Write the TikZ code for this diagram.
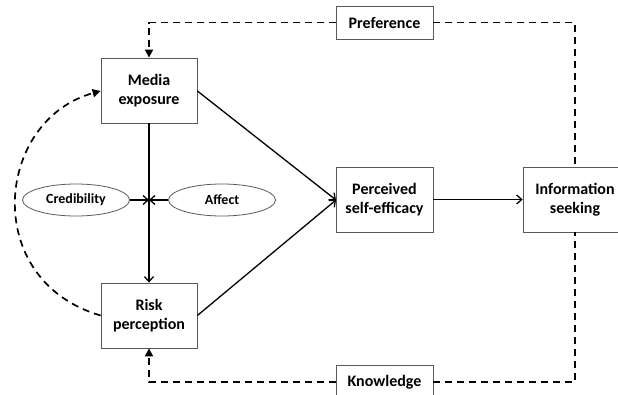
\documentclass[tikz,border=0pt]{standalone}
\usepackage{fontspec}
\setmainfont{Carlito}
\usetikzlibrary{arrows.meta,shapes.geometric}
\begin{document}
\begin{tikzpicture}[x=1pt,y=-1pt,
 box/.style={draw=black!65, line width=0.8pt, align=center, font=\bfseries\fontsize{16}{19}\selectfont, inner sep=0pt},
 oval/.style={ellipse, draw=black!65, line width=0.8pt, minimum width=107pt, minimum height=32pt, font=\bfseries\fontsize{14}{16}\selectfont, inner sep=0pt},
 solidarrow/.style={line width=1.3pt, -{Straight Barb[length=5pt,width=9pt]}},
 dashline/.style={line width=1.7pt, dash pattern=on 7pt off 5pt},
 dasharrow/.style={dashline, -{Triangle[length=8pt,width=8pt]}}]
\useasboundingbox (0,0) rectangle (618,394);
\node[box, minimum width=96pt, minimum height=65pt] (media) at (149,90.5) {Media\\exposure};
\node[box, minimum width=96pt, minimum height=65pt] (risk) at (149,315.5) {Risk\\perception};
\node[box, minimum width=97pt, minimum height=65pt] (perc) at (384.5,199.5) {Perceived\\self-efficacy};
\node[box, minimum width=104pt, minimum height=65pt] (info) at (575,199.5) {Information\\seeking};
\node[box, minimum width=97pt, minimum height=33pt] (pref) at (384.5,22.5) {Preference};
\node[box, minimum width=97pt, minimum height=34pt] (know) at (384.5,382) {Knowledge};
\node[oval] (cred) at (76,200) {Credibility};
\node[oval] (aff) at (222,200) {Affect};
\coordinate (mid) at (149,200);
\coordinate (pin) at (336,200);
\draw[solidarrow] (media.south) -- (risk.north);
\draw[solidarrow] (cred.east) -- (mid);
\draw[solidarrow] (aff.west) -- (mid);
\draw[solidarrow] (media.east |- 0,91) -- (pin);
\draw[solidarrow] (risk.east) -- (pin);
\draw[solidarrow] (perc.east) -- (info.west);
\draw[dasharrow] (pref.west) -| (media.north);
\draw[dashline] (pref.east) -| (info.north);
\draw[dashline] (know.east) -| (info.south);
\draw[dasharrow] (know.west) -| (risk.south);
\draw[dasharrow] (risk.west) .. controls (-20,280) and (-5,120) .. (media.west |- 0,91);
\end{tikzpicture}
\end{document}
